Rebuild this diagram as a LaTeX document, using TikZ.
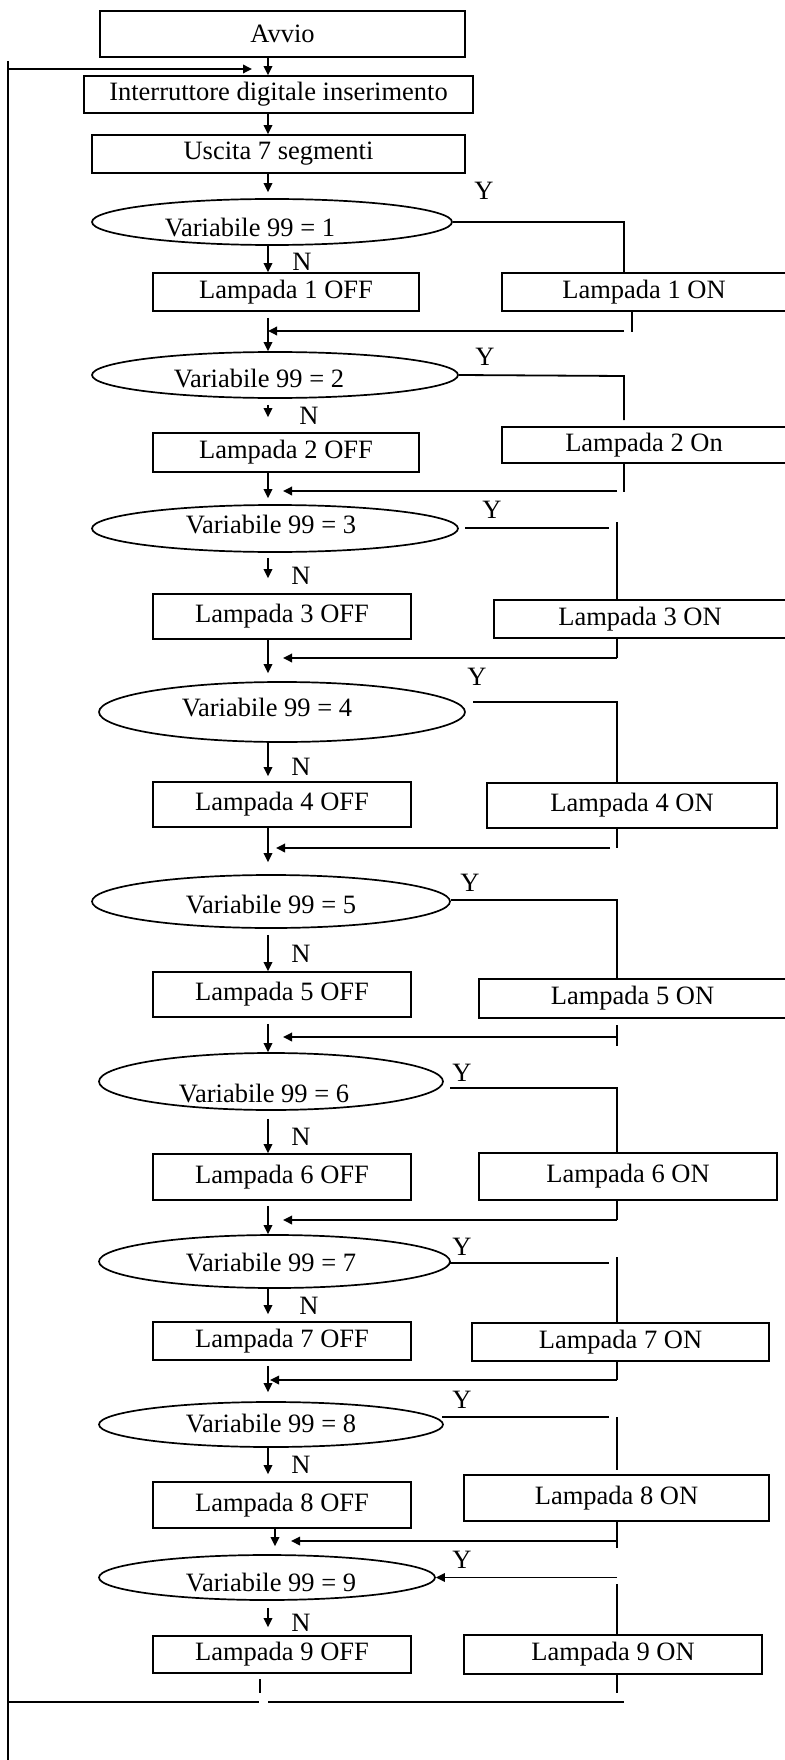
\documentclass[tikz,border=0pt]{standalone}
\usepackage{fontspec}
\setmainfont{Liberation Serif}
\usetikzlibrary{arrows.meta,shapes.geometric}
\begin{document}
\begin{tikzpicture}[x=1pt,y=-1pt,
  every node/.style={font=\fontsize{26.5}{30}\selectfont},
  box/.style={draw, rectangle, inner sep=0pt, line width=1.7pt},
  onbox/.style={box, line width=2.2pt},
  dec/.style={draw, ellipse, inner sep=0pt, line width=1.7pt},
  lbl/.style={inner sep=0pt},
  ln/.style={line width=1.8pt},
  arr/.style={line width=1.8pt, -{Triangle[length=9pt,width=8.5pt]}},
]
\useasboundingbox (0,0) rectangle (784,1760);

% columns of the flow
\coordinate (col) at (268,0);
\coordinate (colb) at (275,0);
\coordinate (rcol) at (617,0);

% ---------- start ----------
\node[box, minimum width=365pt, minimum height=46pt] (avvio) at (282.5,34) {Avvio};
\node[box, minimum width=389pt, minimum height=37pt] (intr) at (278.5,94.5) {Interruttore digitale inserimento};
\node[box, minimum width=373pt, minimum height=38pt] (usc) at (278.5,154) {Uscita 7 segmenti};

% ---------- decisions ----------
\node[dec, minimum width=360pt, minimum height=46pt] (e1) at (272,222) {};
\node[lbl] (e1t) at (250,228) {Variabile 99 = 1};
\node[dec, minimum width=366pt, minimum height=46pt] (e2) at (275,375) {};
\node[lbl] (e2t) at (259,379) {Variabile 99 = 2};
\node[dec, minimum width=366pt, minimum height=47pt] (e3) at (275,528.5) {};
\node[lbl] (e3t) at (271,525) {Variabile 99 = 3};
\node[dec, minimum width=366pt, minimum height=60pt] (e4) at (282,712) {};
\node[lbl] (e4t) at (267,708) {Variabile 99 = 4};
\node[dec, minimum width=358pt, minimum height=53pt] (e5) at (271,901.5) {};
\node[lbl] (e5t) at (271,904) {Variabile 99 = 5};
\node[dec, minimum width=344pt, minimum height=57pt] (e6) at (271,1081.5) {};
\node[lbl] (e6t) at (264,1093) {Variabile 99 = 6};
\node[dec, minimum width=351pt, minimum height=53pt] (e7) at (274.5,1261.5) {};
\node[lbl] (e7t) at (271,1262) {Variabile 99 = 7};
\node[dec, minimum width=344pt, minimum height=45pt] (e8) at (271,1424.5) {};
\node[lbl] (e8t) at (271,1423) {Variabile 99 = 8};
\node[dec, minimum width=336pt, minimum height=45pt] (e9) at (267,1577.5) {};
\node[lbl] (e9t) at (271,1582) {Variabile 99 = 9};

% ---------- lamps off ----------
\node[box, minimum width=266pt, minimum height=38pt] (off1) at (286,292) {Lampada 1 OFF};
\node[box, minimum width=266pt, minimum height=39pt] (off2) at (286,452.5) {Lampada 2 OFF};
\node[box, minimum width=258pt, minimum height=45pt] (off3) at (282,616.5) {Lampada 3 OFF};
\node[box, minimum width=258pt, minimum height=45pt] (off4) at (282,804.5) {Lampada 4 OFF};
\node[box, minimum width=258pt, minimum height=45pt] (off5) at (282,994.5) {Lampada 5 OFF};
\node[box, minimum width=258pt, minimum height=46pt] (off6) at (282,1177) {Lampada 6 OFF};
\node[box, minimum width=258pt, minimum height=38pt] (off7) at (282,1341) {Lampada 7 OFF};
\node[box, minimum width=258pt, minimum height=46pt] (off8) at (282,1505) {Lampada 8 OFF};
\node[box, minimum width=258pt, minimum height=37pt] (off9) at (282,1654.5) {Lampada 9 OFF};

% ---------- lamps on ----------
\node[onbox, minimum width=284pt, minimum height=38pt] (on1) at (644,292) {Lampada 1 ON};
\node[onbox, minimum width=284pt, minimum height=36pt] (on2) at (644,445) {Lampada 2 On};
\node[onbox, minimum width=292pt, minimum height=38pt] (on3) at (640,619) {Lampada 3 ON};
\node[onbox, minimum width=290pt, minimum height=45pt] (on4) at (632,805.5) {Lampada 4 ON};
\node[onbox, minimum width=307pt, minimum height=39pt] (on5) at (632.5,998.5) {Lampada 5 ON};
\node[onbox, minimum width=298pt, minimum height=47pt] (on6) at (628,1176.5) {Lampada 6 ON};
\node[onbox, minimum width=297pt, minimum height=38pt] (on7) at (620.5,1342) {Lampada 7 ON};
\node[onbox, minimum width=305pt, minimum height=46pt] (on8) at (616.5,1498) {Lampada 8 ON};
\node[onbox, minimum width=298pt, minimum height=39pt] (on9) at (613,1654.5) {Lampada 9 ON};

% ---------- Y / N labels ----------
\node[lbl] (y1) at (484,191) {Y};
\node[lbl] (y2) at (485,357) {Y};
\node[lbl] (y3) at (492,510) {Y};
\node[lbl] (y4) at (477,677) {Y};
\node[lbl] (y5) at (470,883) {Y};
\node[lbl] (y6) at (462,1073) {Y};
\node[lbl] (y7) at (462,1247) {Y};
\node[lbl] (y8) at (462,1400) {Y};
\node[lbl] (y9) at (462,1560) {Y};
\node[lbl] (n1) at (302,262) {N};
\node[lbl] (n2) at (309,416) {N};
\node[lbl] (n3) at (301,576) {N};
\node[lbl] (n4) at (301,767) {N};
\node[lbl] (n5) at (301,954) {N};
\node[lbl] (n6) at (301,1137) {N};
\node[lbl] (n7) at (309,1306) {N};
\node[lbl] (n8) at (301,1465) {N};
\node[lbl] (n9) at (301,1623) {N};

% ---------- main column ----------
\draw[arr] (avvio.south -| col) -- (intr.north -| col);
\draw[arr] (intr.south -| col) -- (usc.north -| col);
\draw[arr, shorten >=6pt] (usc.south -| col) -- (e1.north -| col);
\draw[arr] (e1.south -| col) -- (off1.north -| col);
\draw[arr, shorten <=6pt] (off1.south -| col) -- (e2.north -| col);
\draw[arr, shorten <=6pt, shorten >=15pt] (e2.south -| col) -- (off2.north -| col);
\draw[arr, shorten >=6pt] (off2.south -| col) -- (e3.north -| col);
\draw[arr, shorten <=5pt, shorten >=15pt] (e3.south -| col) -- (off3.north -| col);
\draw[arr, shorten >=8pt] (off3.south -| col) -- (e4.north -| col);
\draw[arr, shorten >=5pt] (e4.south -| col) -- (off4.north -| col);
\draw[arr, shorten >=12pt] (off4.south -| col) -- (e5.north -| col);
\draw[arr, shorten <=6pt] (e5.south -| col) -- (off5.north -| col);
\draw[arr, shorten <=6pt] (off5.south -| col) -- (e6.north -| col);
\draw[arr, shorten <=8pt] (e6.south -| col) -- (off6.north -| col);
\draw[arr, shorten <=5pt] (off6.south -| col) -- (e7.north -| col);
\draw[arr, shorten >=7pt] (e7.south -| col) -- (off7.north -| col);
\draw[arr, shorten <=5pt, shorten >=9pt] (off7.south -| col) -- (e8.north -| col);
\draw[arr, shorten >=7pt] (e8.south -| col) -- (off8.north -| col);
\draw[arr, shorten >=8pt] (off8.south -| colb) -- (e9.north -| colb);
\draw[arr, shorten <=7pt, shorten >=8pt] (e9.south -| col) -- (off9.north -| col);

% ---------- branch 1 ----------
\coordinate (k1) at (624,222);
\draw[ln] (e1.east) -- (k1) -- (k1 |- on1.north);
\coordinate (m1) at (632,332);
\draw[ln] (on1.south -| m1) -- (m1);
\coordinate (h1) at (624,331);
\draw[arr] (h1) -- (h1 -| col);

% ---------- branch 2 ----------
\coordinate (k2) at (624,376);
\coordinate (k2b) at (624,420);
\draw[ln] (e2.east) -- (k2) -- (k2b);
\coordinate (m2) at (624,492);
\draw[ln] (on2.south -| m2) -- (m2);
\coordinate (h2) at (617,491);
\coordinate (t2) at (283,491);
\draw[arr] (h2) -- (t2);

% ---------- branch 3 ----------
\coordinate (k3a) at (465,528);
\coordinate (k3b) at (609,528);
\draw[ln] (k3a) -- (k3b);
\coordinate (k3c) at (617,522);
\draw[ln] (k3c) -- (on3.north -| k3c);
\coordinate (m3) at (617,658);
\coordinate (t3) at (283,658);
\draw[ln] (on3.south -| m3) -- (m3);
\draw[arr] (m3) -- (t3);

% ---------- branch 4 ----------
\coordinate (k4a) at (473,702);
\coordinate (k4) at (617,702);
\draw[ln] (k4a) -- (k4) -- (on4.north -| k4);
\coordinate (m4) at (617,848);
\draw[ln] (on4.south -| m4) -- (m4);
\coordinate (h4) at (610,848);
\coordinate (t4) at (276,848);
\draw[arr] (h4) -- (t4);

% ---------- branch 5 ----------
\coordinate (k5) at (617,900);
\draw[ln] (e5.east |- k5) -- (k5) -- (on5.north -| k5);
\coordinate (m5a) at (617,1025);
\coordinate (m5b) at (617,1046);
\draw[ln] (m5a) -- (m5b);
\coordinate (h5) at (617,1037);
\coordinate (t5) at (283,1037);
\draw[arr] (h5) -- (t5);

% ---------- branch 6 ----------
\coordinate (k6a) at (450,1088);
\coordinate (k6) at (617,1088);
\draw[ln] (k6a) -- (k6) -- (on6.north -| k6);
\coordinate (m6) at (617,1220);
\coordinate (t6) at (283,1220);
\draw[ln] (on6.south -| m6) -- (m6);
\draw[arr] (m6) -- (t6);

% ---------- branch 7 ----------
\coordinate (k7a) at (450,1263);
\coordinate (k7b) at (609,1263);
\draw[ln] (k7a) -- (k7b);
\coordinate (k7c) at (617,1257);
\draw[ln] (k7c) -- (on7.north -| k7c);
\coordinate (m7) at (617,1380);
\coordinate (t7) at (270,1380);
\draw[ln] (on7.south -| m7) -- (m7);
\draw[arr] (m7) -- (t7);

% ---------- branch 8 ----------
\coordinate (k8a) at (442,1417);
\coordinate (k8b) at (609,1417);
\draw[ln] (k8a) -- (k8b);
\coordinate (k8c) at (617,1417);
\coordinate (k8d) at (617,1470);
\draw[ln] (k8c) -- (k8d);
\coordinate (m8) at (617,1548);
\draw[ln] (on8.south -| m8) -- (m8);
\coordinate (h8) at (617,1541);
\coordinate (t8) at (291,1541);
\draw[arr] (h8) -- (t8);

% ---------- branch 9 ----------
\coordinate (h9) at (617,1577.5);
\draw[arr] (h9) -- (e9.east);
\coordinate (k9) at (617,1584);
\draw[ln] (k9) -- (on9.north -| k9);

% ---------- loop back ----------
\coordinate (s1a) at (260,1679);
\coordinate (s1b) at (260,1693);
\draw[ln] (s1a) -- (s1b);
\coordinate (s2) at (617,1693);
\draw[ln] (on9.south -| s2) -- (s2);
\coordinate (b0) at (8,1702);
\coordinate (b1) at (259,1702);
\coordinate (b2) at (268,1702);
\coordinate (b3) at (624,1702);
\draw[ln] (b0) -- (b1);
\draw[ln] (b2) -- (b3);
\coordinate (lt) at (8,61);
\coordinate (lb) at (8,1760);
\draw[ln] (lt) -- (lb);
\coordinate (lh) at (8,69);
\coordinate (lhe) at (252,69);
\draw[arr] (lh) -- (lhe);
\end{tikzpicture}
\end{document}
